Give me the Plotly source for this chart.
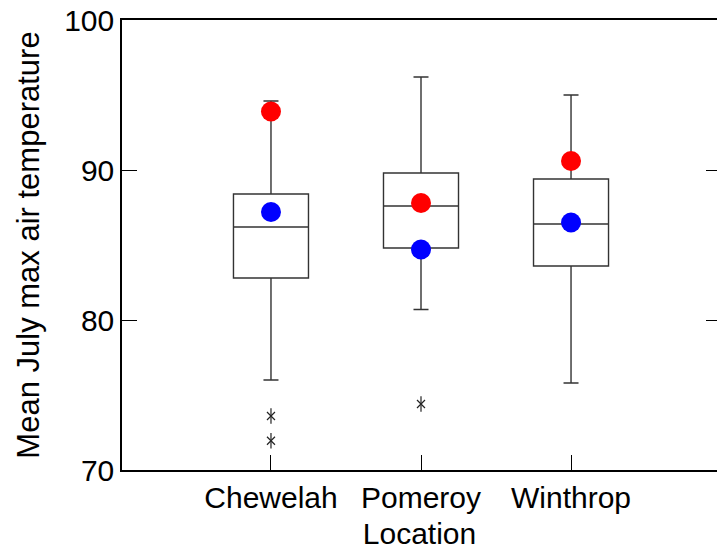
import plotly.graph_objects as go

locations = ["Chewelah", "Pomeroy", "Winthrop"]
q1 = [82.8, 84.8, 83.6]
median = [86.2, 87.6, 86.4]
q3 = [88.4, 89.8, 89.4]
lower_whisker = [76.0, 80.7, 75.8]
upper_whisker = [94.6, 96.2, 95.0]
red_values = [93.9, 87.8, 90.6]
blue_values = [87.2, 84.7, 86.5]
outlier_locations = ["Chewelah", "Chewelah", "Pomeroy"]
outlier_values = [73.6, 71.95, 74.4]
y_ticks = [70, 80, 90, 100]

FONT = "Liberation Sans, Arial, sans-serif"

fig = go.Figure()
fig.add_trace(go.Box(
    x=locations, q1=q1, median=median, q3=q3,
    lowerfence=lower_whisker, upperfence=upper_whisker,
    width=0.5, whiskerwidth=0.2, boxpoints=False,
    line=dict(color="#333333", width=1.4),
    fillcolor="rgba(0,0,0,0)", showlegend=False, hoverinfo="skip",
))
fig.add_trace(go.Scatter(
    x=outlier_locations, y=outlier_values, mode="markers",
    marker=dict(symbol="x-thin-open", size=8, color="#222222",
                line=dict(color="#222222", width=1.2)),
    showlegend=False,
))
fig.add_trace(go.Scatter(
    x=outlier_locations, y=outlier_values, mode="markers",
    marker=dict(symbol="line-ns-open", size=11, color="#222222",
                line=dict(color="#222222", width=1.2)),
    showlegend=False,
))
fig.add_trace(go.Scatter(
    x=locations, y=red_values, mode="markers",
    marker=dict(color="#ff0000", size=20, line=dict(width=0)),
    showlegend=False,
))
fig.add_trace(go.Scatter(
    x=locations, y=blue_values, mode="markers",
    marker=dict(color="#0000ff", size=20, line=dict(width=0)),
    showlegend=False,
))
# invisible trace for right-side ticks
fig.add_trace(go.Scatter(x=locations, y=[None] * 3, yaxis="y2", showlegend=False, hoverinfo="skip"))

fig.update_layout(
    width=717, height=553,
    margin=dict(l=122, r=0, t=20, b=83),
    paper_bgcolor="white", plot_bgcolor="white",
    font=dict(family=FONT, size=30, color="black"),
    xaxis=dict(
        type="category", categoryorder="array", categoryarray=locations,
        range=[-0.993, 2.973],
        showline=True, linecolor="black", linewidth=1.5, mirror=True,
        ticks="inside", ticklen=15, tickwidth=1.2, tickcolor="black",
        showgrid=False, zeroline=False,
        tickfont=dict(size=30),
        title=dict(text="Location", font=dict(size=30), standoff=10),
    ),
    yaxis=dict(
        range=[70, 100], tickvals=y_ticks,
        showline=True, linecolor="black", linewidth=1.5,
        ticks="inside", ticklen=15, tickwidth=1.2, tickcolor="black",
        showgrid=False, zeroline=False,
        tickfont=dict(size=30),
        title=dict(text="Mean July max air temperature", font=dict(size=31), standoff=15),
    ),
    yaxis2=dict(
        range=[70, 100], tickvals=y_ticks, overlaying="y", side="right",
        showline=False, ticks="inside", ticklen=11, tickwidth=1.2, tickcolor="black",
        showticklabels=False, showgrid=False, zeroline=False,
    ),
)

fig.write_html("out.html")
